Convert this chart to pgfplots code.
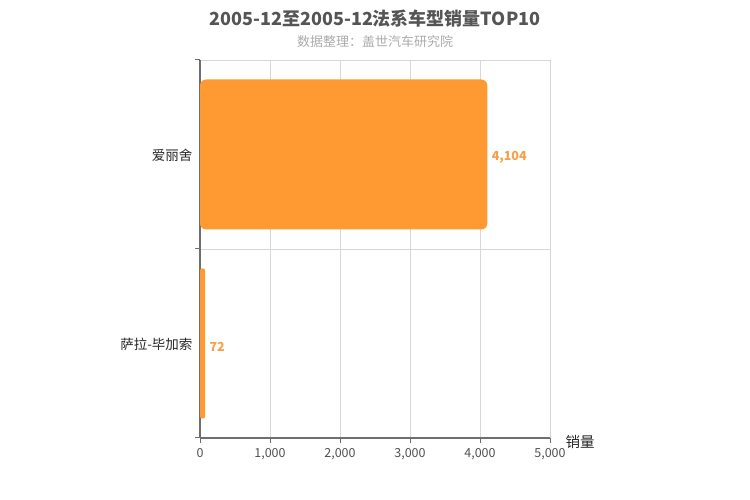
\documentclass[border=0pt]{standalone}
\usepackage{pgfplots}
\pgfplotsset{compat=1.18}
\usepackage{fontspec}
\setmainfont{Noto Sans CJK SC}
\definecolor{barc}{RGB}{255,154,51}
\definecolor{labc}{RGB}{245,160,74}
\definecolor{titc}{RGB}{85,85,85}
\definecolor{subc}{RGB}{170,170,170}
\definecolor{axc}{RGB}{110,110,110}
\definecolor{gridc}{RGB}{215,215,215}
\definecolor{tickc}{RGB}{80,80,80}
\begin{document}
\begin{tikzpicture}[x=1pt,y=1pt]
\useasboundingbox (0,0) rectangle (750,500);
\node[font=\bfseries\fontsize{18}{20}\selectfont, text=titc] at (375,481) {2005-12至2005-12法系车型销量TOP10};
\node[font=\fontsize{13}{15}\selectfont, text=subc] at (375,458) {数据整理：盖世汽车研究院};
\begin{axis}[
  at={(200pt,62pt)}, anchor=south west,
  scale only axis, width=350pt, height=378pt,
  xmin=0, xmax=5000, ymin=-0.5, ymax=1.5,
  xtick={0,1000,2000,3000,4000,5000},
  xticklabel style={font=\fontsize{12.5}{14}\selectfont, text=tickc, yshift=-2pt},
  /pgf/number format/assume math mode=true,
  /pgf/number format/1000 sep={,},
  scaled x ticks=false,
  xmajorgrids, grid style={gridc, line width=0.8pt},
  ytick={-0.5,0.5,1.5}, yticklabels={},
  ymajorgrids,
  extra y ticks={0,1},
  extra y tick labels={萨拉-毕加索,爱丽舍},
  extra y tick style={major tick length=0pt, yticklabel style={font=\fontsize{13.5}{15}\selectfont, text=black!85, xshift=-4pt, yshift=-1pt}, grid=none},
  axis x line*=bottom, axis y line*=left,
  axis line style={axc, line width=1.2pt},
  x axis line style={-},
  y axis line style={-},
  tick style={axc, line width=1pt},
  major tick length=5pt,
  xtick pos=bottom, ytick pos=left,
  tick align=outside,
  xlabel={销量},
  xlabel style={at={(axis description cs:1,0)}, anchor=west, font=\fontsize{14.5}{16}\selectfont, text=black!85, xshift=12pt, yshift=-4pt},
  clip=false,
  every node near coord/.append style={font=\bfseries\fontsize{12.5}{14}\selectfont, text=labc, anchor=west, xshift=1pt, yshift=-3pt, /pgf/number format/1000 sep={,}, rounded corners=0pt},
]
\addplot+[xbar, bar width=150pt, bar shift=0pt, fill=barc, draw=none, rounded corners=6pt, mark=none,
  nodes near coords, point meta=x]
  coordinates {(4104,1)};
\addplot+[xbar, bar width=150pt, bar shift=0pt, fill=barc, draw=none, rounded corners=2pt, mark=none,
  nodes near coords, point meta=x]
  coordinates {(72,0)};
\end{axis}
\end{tikzpicture}
\end{document}
